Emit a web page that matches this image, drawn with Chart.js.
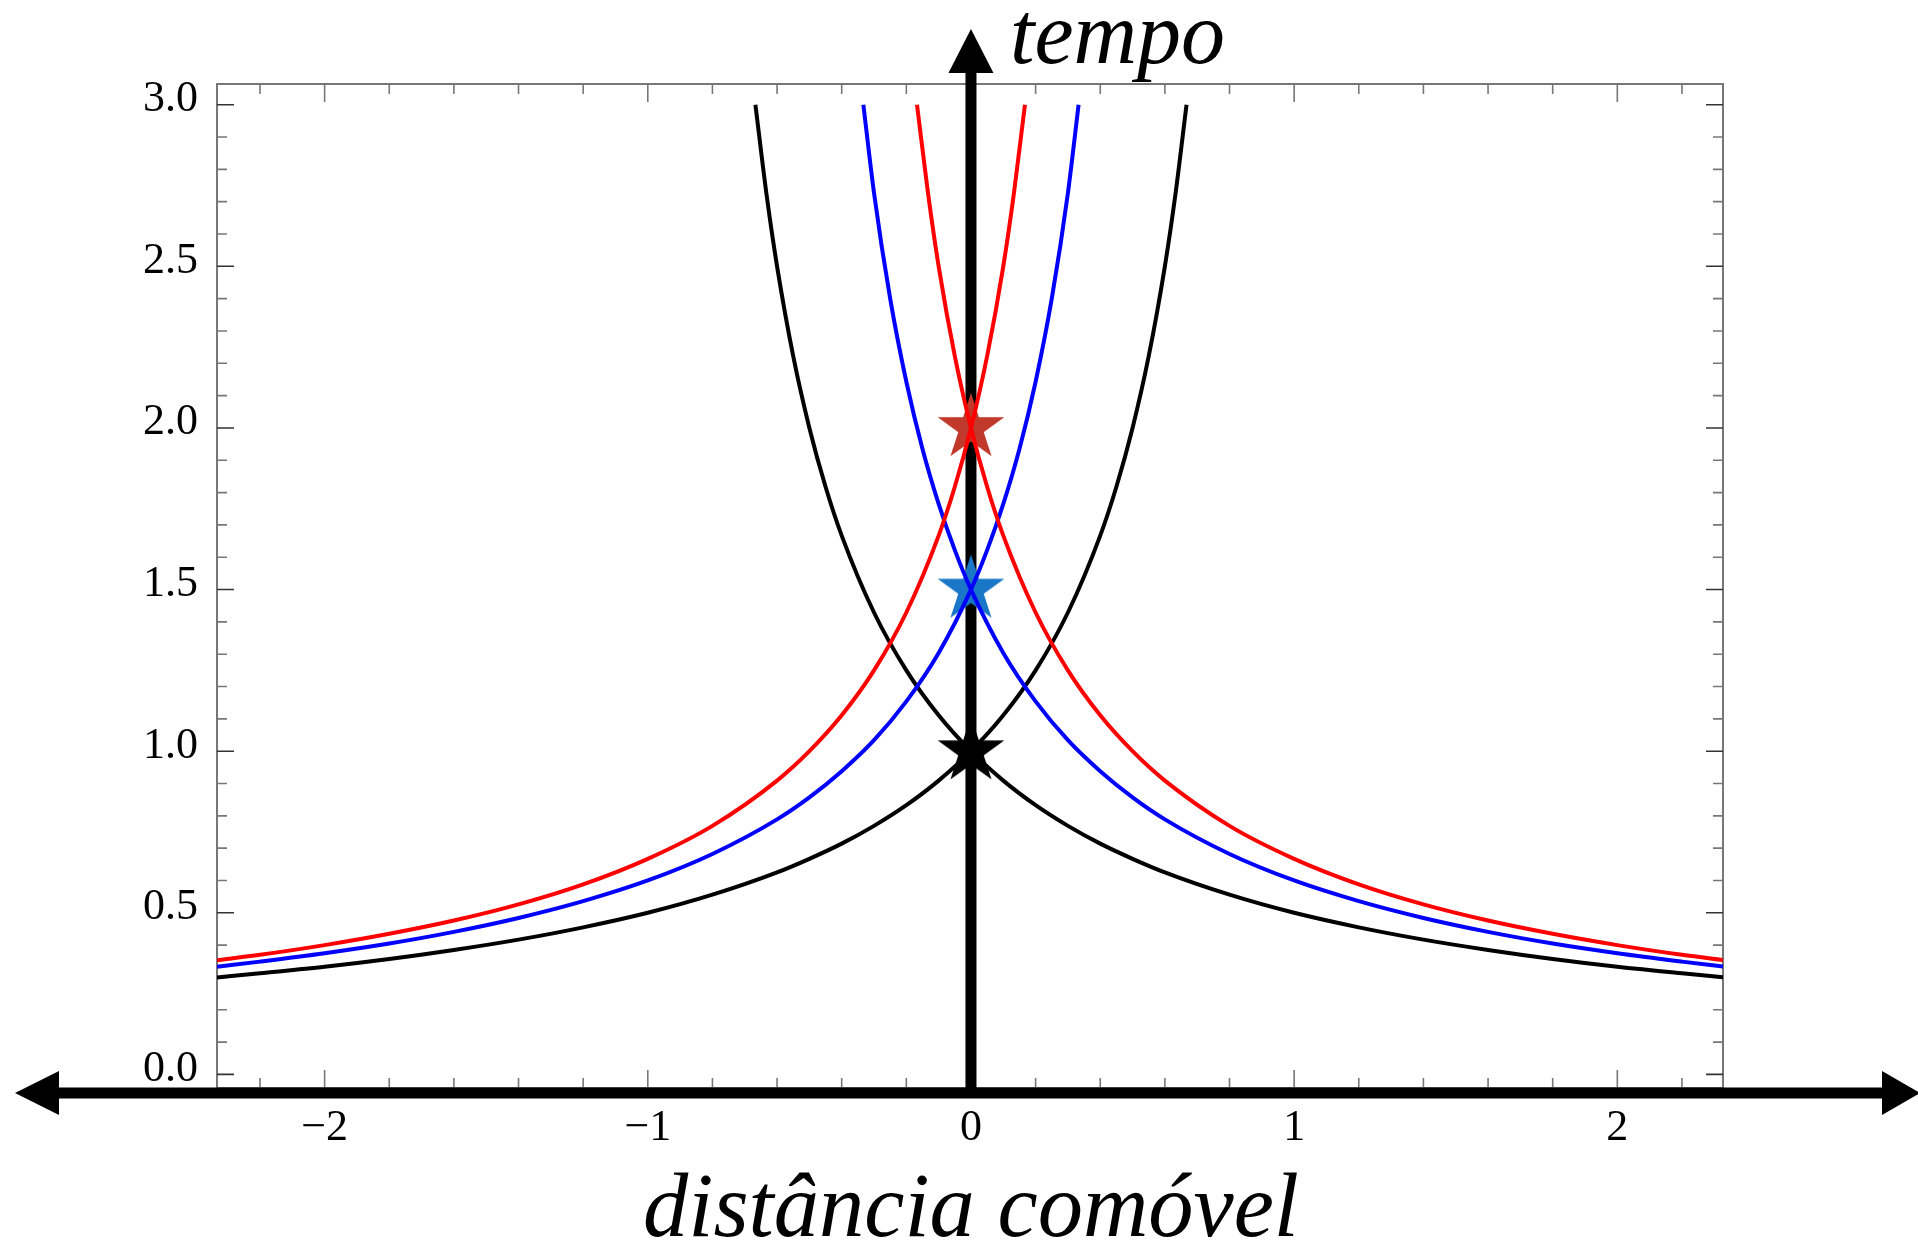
<!DOCTYPE html>
<html>
<head>
<meta charset="utf-8">
<script src="https://cdn.jsdelivr.net/npm/chart.js@4.4.1/dist/chart.umd.min.js"></script>
<style>
  html, body { margin: 0; padding: 0; background: #fff; }
  #wrap { width: 1918px; height: 1244px; }
</style>
</head>
<body>
<div id="wrap"><canvas id="chart" width="1918" height="1244"></canvas></div>
<script>
// ----------------------------------------
// Light cones in comoving distance
// ----------------------------------------

// black cone (star at t = 1)
const blackRiseX = [-2.333, -2.2, -2.0, -1.8, -1.6, -1.4, -1.2, -1.0, -0.8, -0.6, -0.5, -0.4, -0.3, -0.2, -0.1, 0, 0.1, 0.2, 0.3, 0.4, 0.45, 0.5, 0.55, 0.6, 0.633, 0.667];
const blackRiseT = [0.3, 0.313, 0.333, 0.357, 0.385, 0.417, 0.455, 0.5, 0.556, 0.625, 0.667, 0.714, 0.769, 0.833, 0.909, 1.0, 1.111, 1.25, 1.429, 1.667, 1.818, 2.0, 2.222, 2.5, 2.725, 3.0];
const blackFallX = [-0.667, -0.633, -0.6, -0.55, -0.5, -0.45, -0.4, -0.3, -0.2, -0.1, 0, 0.1, 0.2, 0.3, 0.4, 0.5, 0.6, 0.8, 1.0, 1.2, 1.4, 1.6, 1.8, 2.0, 2.2, 2.333];
const blackFallT = [3.0, 2.725, 2.5, 2.222, 2.0, 1.818, 1.667, 1.429, 1.25, 1.111, 1.0, 0.909, 0.833, 0.769, 0.714, 0.667, 0.625, 0.556, 0.5, 0.455, 0.417, 0.385, 0.357, 0.333, 0.313, 0.3];

// blue cone (star at t = 1.5)
const blueRiseX = [-2.333, -2.2, -2.0, -1.8, -1.6, -1.4, -1.2, -1.0, -0.8, -0.6, -0.5, -0.4, -0.3, -0.2, -0.1, 0, 0.05, 0.1, 0.15, 0.2, 0.25, 0.3, 0.333];
const blueRiseT = [0.333, 0.349, 0.375, 0.405, 0.441, 0.484, 0.536, 0.6, 0.682, 0.789, 0.857, 0.938, 1.034, 1.154, 1.304, 1.5, 1.622, 1.765, 1.935, 2.143, 2.4, 2.727, 3.0];
const blueFallX = [-0.333, -0.3, -0.25, -0.2, -0.15, -0.1, -0.05, 0, 0.1, 0.2, 0.3, 0.4, 0.5, 0.6, 0.8, 1.0, 1.2, 1.4, 1.6, 1.8, 2.0, 2.2, 2.333];
const blueFallT = [3.0, 2.727, 2.4, 2.143, 1.935, 1.765, 1.622, 1.5, 1.304, 1.154, 1.034, 0.938, 0.857, 0.789, 0.682, 0.6, 0.536, 0.484, 0.441, 0.405, 0.375, 0.349, 0.333];

// red cone (star at t = 2)
const redRiseX = [-2.333, -2.2, -2.0, -1.8, -1.6, -1.4, -1.2, -1.0, -0.8, -0.6, -0.5, -0.4, -0.3, -0.2, -0.1, -0.05, 0, 0.05, 0.1, 0.133, 0.167];
const redRiseT = [0.353, 0.370, 0.4, 0.435, 0.476, 0.526, 0.588, 0.667, 0.769, 0.909, 1.0, 1.111, 1.25, 1.429, 1.667, 1.818, 2.0, 2.222, 2.5, 2.727, 3.0];
const redFallX = [-0.167, -0.133, -0.1, -0.05, 0, 0.05, 0.1, 0.2, 0.3, 0.4, 0.5, 0.6, 0.8, 1.0, 1.2, 1.4, 1.6, 1.8, 2.0, 2.2, 2.333];
const redFallT = [3.0, 2.727, 2.5, 2.222, 2.0, 1.818, 1.667, 1.429, 1.25, 1.111, 1.0, 0.909, 0.769, 0.667, 0.588, 0.526, 0.476, 0.435, 0.4, 0.37, 0.353];

// observers (stars) on the time axis
const starX = [0, 0, 0];
const starT = [1.0, 1.5, 2.0];
const starColors = ['#000000', '#1a76c6', '#c0392b'];

const xTickLabels = { '-2': '\u22122', '-1': '\u22121', '0': '0', '1': '1', '2': '2' };

const FONT = "'Liberation Serif', 'DejaVu Serif', serif";

function pts(xs, ts) {
    return xs.map((x, i) => ({ x: x, y: ts[i] }));
}

function makeStar(color) {
    const c = document.createElement('canvas');
    c.width = 74; c.height = 74;
    const g = c.getContext('2d');
    g.beginPath();
    for (let i = 0; i < 10; i++) {
        const r = i % 2 ? 13.4 : 35;
        const a = -Math.PI / 2 + i * Math.PI / 5;
        g.lineTo(37 + r * Math.cos(a), 37 + r * Math.sin(a));
    }
    g.closePath();
    g.fillStyle = color;
    g.fill();
    return c;
}

function curve(xs, ts, color) {
    return {
        data: pts(xs, ts),
        showLine: true,
        borderColor: color,
        borderWidth: 4,
        pointRadius: 0,
        cubicInterpolationMode: 'monotone',
        order: 1
    };
}

// frame, inward ticks and the big arrow axes
const decorations = {
    id: 'decorations',
    beforeDatasetsDraw(chart) {
        const { ctx, chartArea: a, scales } = chart;
        const sx = scales.x, sy = scales.y;
        ctx.save();

        // frame
        ctx.strokeStyle = '#777';
        ctx.lineWidth = 2;
        ctx.strokeRect(a.left, a.top, a.right - a.left, a.bottom - a.top);

        // x ticks (top and bottom)
        ctx.lineWidth = 1.6;
        for (let k = -11; k <= 11; k++) {
            const v = k / 5;
            const px = sx.getPixelForValue(v);
            const len = k % 5 === 0 ? 18 : 10;
            ctx.beginPath();
            ctx.moveTo(px, a.top); ctx.lineTo(px, a.top + len);
            ctx.moveTo(px, a.bottom); ctx.lineTo(px, a.bottom - len);
            ctx.stroke();
        }
        // y ticks (left and right)
        for (let k = 0; k <= 30; k++) {
            const py = sy.getPixelForValue(k / 10);
            const len = k % 5 === 0 ? 17 : 10;
            ctx.strokeStyle = k % 5 === 0 ? '#333' : '#777';
            ctx.beginPath();
            ctx.moveTo(a.left, py); ctx.lineTo(a.left + len, py);
            ctx.moveTo(a.right, py); ctx.lineTo(a.right - len, py);
            ctx.stroke();
        }

        // thick horizontal axis with arrows on both ends
        const yAx = a.bottom + 5;
        const x0 = sx.getPixelForValue(0);
        ctx.fillStyle = '#000';
        ctx.fillRect(55, yAx - 5.5, 1885 - 55, 11);
        ctx.beginPath();
        ctx.moveTo(15, yAx); ctx.lineTo(59, yAx - 22); ctx.lineTo(59, yAx + 22); ctx.closePath();
        ctx.fill();
        ctx.beginPath();
        ctx.moveTo(1920, yAx); ctx.lineTo(1882, yAx - 22); ctx.lineTo(1882, yAx + 22); ctx.closePath();
        ctx.fill();

        // thick vertical (time) axis
        ctx.fillRect(x0 - 5.5, 70, 11, yAx - 70);
        ctx.beginPath();
        ctx.moveTo(x0, 29); ctx.lineTo(x0 - 22.5, 73); ctx.lineTo(x0 + 22.5, 73); ctx.closePath();
        ctx.fill();
        ctx.restore();
    },
    afterDraw(chart) {
        const ctx = chart.ctx;
        ctx.save();
        ctx.fillStyle = '#000';
        ctx.textBaseline = 'alphabetic';
        ctx.textAlign = 'left';

        // time axis label
        ctx.font = 'italic 88px ' + FONT;
        ctx.fillText('tempo', 1010, 63);

        // horizontal axis label
        const label = 'distância comóvel';
        ctx.font = 'italic 92px ' + FONT;
        const w = ctx.measureText(label).width;
        ctx.translate(643, 1236);
        ctx.scale(656 / w, 1);
        ctx.fillText(label, 0, 0);
        ctx.restore();
    }
};

const datasets = [
    {
        data: pts(starX, starT),
        showLine: false,
        pointStyle: starColors.map(makeStar),
        pointRadius: 35,
        order: 2
    },
    curve(redRiseX, redRiseT, '#ff0000'),
    curve(redFallX, redFallT, '#ff0000'),
    curve(blueRiseX, blueRiseT, '#0000ff'),
    curve(blueFallX, blueFallT, '#0000ff'),
    curve(blackRiseX, blackRiseT, '#000000'),
    curve(blackFallX, blackFallT, '#000000')
];

new Chart(document.getElementById('chart'), {
    type: 'scatter',
    data: { datasets: datasets },
    options: {
        responsive: false,
        devicePixelRatio: 1,
        animation: false,
        layout: { padding: { top: 84, right: 195, bottom: 0, left: 0 } },
        plugins: { legend: { display: false }, tooltip: { enabled: false } },
        scales: {
            x: {
                type: 'linear',
                min: -2.333,
                max: 2.327,
                grid: { display: false },
                border: { display: false },
                afterFit(scale) { scale.height = 156; },
                ticks: {
                    stepSize: 1,
                    includeBounds: false,
                    padding: 6,
                    color: '#000',
                    font: { family: FONT, size: 44 },
                    callback: v => xTickLabels[String(v)] ?? ''
                }
            },
            y: {
                type: 'linear',
                min: -0.042,
                max: 3.064,
                grid: { display: false },
                border: { display: false },
                afterFit(scale) { scale.width = 217; },
                ticks: {
                    stepSize: 0.5,
                    includeBounds: false,
                    padding: 11,
                    labelOffset: -5,
                    color: '#000',
                    font: { family: FONT, size: 44 },
                    callback: v => v.toFixed(1)
                }
            }
        }
    },
    plugins: [decorations]
});
</script>
</body>
</html>
